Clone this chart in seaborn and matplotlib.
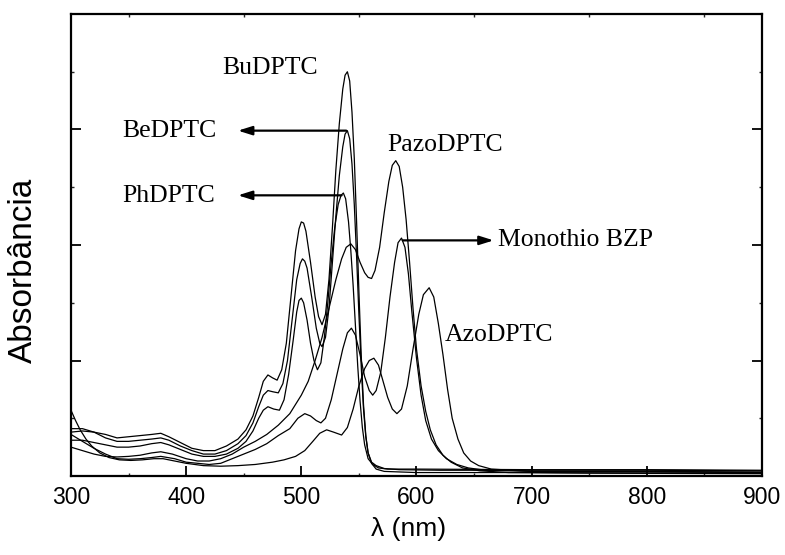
import matplotlib
matplotlib.use("Agg")
import matplotlib.pyplot as plt
from matplotlib.ticker import MultipleLocator
import numpy as np
import pandas as pd
import seaborn as sns

# UV-Vis absorption spectra (wavelength in nm, absorbance in arbitrary units)
bu_nm = [300, 310, 320, 330, 340, 350, 360, 370, 378, 385, 395, 405, 415, 425, 435, 445, 452, 458,
         463, 467, 471, 475, 479, 483, 487, 491, 495, 498, 500, 502, 504, 508, 512, 515, 518, 521,
         524, 527, 530, 533, 536, 538, 540, 542, 544, 546, 548, 550, 552, 554, 556, 558, 561, 565,
         572, 585, 620, 700, 800, 900]
bu_abs = [0.38, 0.39, 0.38, 0.36, 0.33, 0.34, 0.35, 0.36, 0.37, 0.34, 0.29, 0.24, 0.22, 0.22, 0.26,
          0.32, 0.40, 0.52, 0.68, 0.82, 0.875, 0.85, 0.83, 0.92, 1.15, 1.55, 1.95, 2.14, 2.20, 2.19,
          2.12, 1.85, 1.55, 1.38, 1.31, 1.40, 1.70, 2.15, 2.65, 3.05, 3.35, 3.47, 3.50, 3.42, 3.15,
          2.75, 2.20, 1.60, 1.05, 0.62, 0.35, 0.20, 0.12, 0.09, 0.065, 0.055, 0.05, 0.05, 0.05, 0.045]

be_nm = [300, 310, 320, 330, 340, 350, 360, 370, 378, 385, 395, 405, 415, 425, 435, 445, 452, 458,
         463, 467, 471, 475, 480, 484, 488, 492, 496, 499, 501, 503, 505, 509, 513, 516, 518, 521,
         524, 527, 530, 533, 536, 538, 540, 542, 544, 546, 548, 550, 552, 554, 556, 558, 561, 565,
         572, 600, 700, 800, 900]
be_abs = [0.41, 0.41, 0.38, 0.33, 0.30, 0.30, 0.31, 0.32, 0.33, 0.31, 0.26, 0.22, 0.19, 0.19, 0.22,
          0.28, 0.35, 0.46, 0.60, 0.70, 0.74, 0.73, 0.72, 0.80, 1.00, 1.35, 1.70, 1.84, 1.88, 1.86,
          1.80, 1.55, 1.28, 1.15, 1.12, 1.20, 1.45, 1.85, 2.25, 2.60, 2.85, 2.96, 2.99, 2.92, 2.70,
          2.35, 1.90, 1.40, 0.95, 0.58, 0.34, 0.20, 0.11, 0.06, 0.04, 0.03, 0.03, 0.025, 0.025]

ph_nm = [300, 310, 320, 330, 340, 350, 360, 370, 378, 385, 395, 405, 415, 425, 435, 445, 452, 458,
         463, 467, 471, 476, 481, 485, 489, 493, 496, 498, 500, 502, 505, 508, 511, 514, 517, 520,
         523, 526, 529, 532, 534.5, 536.5, 538.5, 541, 543, 545, 547, 549, 551, 553, 555, 558, 562,
         567, 575, 600, 700, 800, 900]
ph_abs = [0.31, 0.31, 0.29, 0.27, 0.25, 0.25, 0.26, 0.28, 0.29, 0.27, 0.23, 0.19, 0.17, 0.17, 0.19,
          0.24, 0.30, 0.39, 0.50, 0.57, 0.60, 0.58, 0.57, 0.66, 0.88, 1.18, 1.42, 1.52, 1.54, 1.50,
          1.35, 1.15, 1.00, 0.92, 0.98, 1.20, 1.50, 1.85, 2.15, 2.35, 2.43, 2.45, 2.40, 2.20, 1.95,
          1.65, 1.30, 0.95, 0.65, 0.42, 0.27, 0.15, 0.10, 0.07, 0.06, 0.06, 0.055, 0.055, 0.05]

pazo_nm = [300, 310, 320, 330, 340, 350, 360, 370, 378, 388, 400, 410, 420, 430, 440, 450, 460, 470,
           480, 490, 500, 506, 512, 518, 524, 530, 535, 539, 543, 547, 551, 555, 558, 561, 564, 568,
           572, 576, 579, 582, 585, 588, 591, 594, 597, 600, 604, 608, 612, 617, 623, 630, 640, 655,
           680, 750, 900]
pazo_abs = [0.25, 0.22, 0.19, 0.17, 0.165, 0.17, 0.18, 0.20, 0.21, 0.19, 0.15, 0.13, 0.13, 0.15,
            0.19, 0.25, 0.30, 0.36, 0.44, 0.54, 0.70, 0.82, 1.00, 1.20, 1.45, 1.70, 1.88, 1.98, 2.01,
            1.96, 1.85, 1.76, 1.72, 1.71, 1.78, 1.98, 2.28, 2.55, 2.69, 2.73, 2.68, 2.50, 2.22, 1.85,
            1.45, 1.10, 0.78, 0.56, 0.40, 0.27, 0.18, 0.12, 0.07, 0.045, 0.03, 0.025, 0.02]

mono_nm = [300, 310, 320, 330, 340, 350, 360, 370, 378, 390, 400, 410, 420, 430, 440, 450, 460, 470,
           480, 490, 497, 503, 508, 513, 517, 521, 526, 531, 536, 540, 543.5, 547, 551, 555, 559, 562,
           565, 569, 573, 577, 581, 584, 587, 590, 593, 596, 600, 604, 608, 613, 619, 626, 635, 645,
           660, 700, 800, 900]
mono_abs = [0.36, 0.30, 0.24, 0.19, 0.15, 0.145, 0.15, 0.16, 0.17, 0.15, 0.12, 0.11, 0.10, 0.11,
            0.15, 0.19, 0.23, 0.28, 0.35, 0.41, 0.50, 0.54, 0.52, 0.48, 0.46, 0.50, 0.66, 0.88, 1.10,
            1.24, 1.28, 1.22, 1.05, 0.86, 0.74, 0.70, 0.74, 0.90, 1.20, 1.55, 1.85, 2.02, 2.06, 1.98,
            1.75, 1.42, 1.02, 0.70, 0.48, 0.32, 0.22, 0.15, 0.10, 0.07, 0.05, 0.04, 0.04, 0.035]

azo_nm = [300, 304, 308, 313, 318, 325, 333, 342, 352, 362, 372, 380, 390, 400, 415, 430, 445, 460,
          475, 485, 495, 503, 510, 516, 522, 528, 535, 540, 545, 550, 555, 559, 563, 567, 571, 575,
          579, 583, 587, 592, 597, 602, 606, 611, 615, 619, 623, 627, 631, 636, 641, 647, 654, 665,
          700, 800, 900]
azo_abs = [0.57, 0.48, 0.40, 0.32, 0.26, 0.20, 0.16, 0.14, 0.135, 0.14, 0.15, 0.15, 0.13, 0.11, 0.09,
           0.085, 0.09, 0.10, 0.12, 0.14, 0.17, 0.22, 0.30, 0.37, 0.40, 0.38, 0.355, 0.42, 0.58, 0.78,
           0.93, 1.00, 1.02, 0.96, 0.82, 0.68, 0.58, 0.54, 0.58, 0.78, 1.10, 1.40, 1.57, 1.63, 1.55,
           1.32, 1.05, 0.75, 0.50, 0.32, 0.20, 0.13, 0.09, 0.06, 0.04, 0.035, 0.03]

compounds = ["BuDPTC", "BeDPTC", "PhDPTC", "PazoDPTC", "Monothio BZP", "AzoDPTC"]
wavelengths = [bu_nm, be_nm, ph_nm, pazo_nm, mono_nm, azo_nm]
absorbances = [bu_abs, be_abs, ph_abs, pazo_abs, mono_abs, azo_abs]

frames = [pd.DataFrame({"nm": w, "A": a, "compound": c})
          for c, w, a in zip(compounds, wavelengths, absorbances)]
spectra = pd.concat(frames, ignore_index=True)

sns.set_theme(style="white")
plt.rcParams["font.family"] = ["Liberation Sans", "DejaVu Sans"]

fig = plt.figure(figsize=(7.85, 5.55), dpi=100)
ax = fig.add_axes([0.0904, 0.1423, 0.8803, 0.8325])

sns.lineplot(data=spectra, x="nm", y="A", hue="compound", units="compound",
             estimator=None, sort=False, palette=["black"] * len(compounds),
             linewidth=0.9, legend=False, ax=ax)

ax.set_xlim(300, 900)
ax.set_ylim(0, 4)
ax.xaxis.set_major_locator(MultipleLocator(100))
ax.xaxis.set_minor_locator(MultipleLocator(50))
ax.yaxis.set_major_locator(MultipleLocator(1))
ax.yaxis.set_minor_locator(MultipleLocator(0.5))
ax.set_yticklabels([])
ax.tick_params(axis="both", which="major", direction="in", length=7, width=1.3,
               labelsize=16.5, colors="black", pad=7)
ax.tick_params(axis="x", which="major", top=False, bottom=True)
ax.tick_params(axis="y", which="major", left=True, right=True, labelleft=False)
ax.tick_params(axis="both", which="minor", direction="in", length=2, width=1.0,
               bottom=True, top=True, left=True, right=True)
for s in ax.spines.values():
    s.set_linewidth(1.6)
    s.set_color("black")

ax.set_xlabel("λ (nm)", fontsize=19, color="black")
ax.set_ylabel("Absorbância", fontsize=24, color="black")
ax.xaxis.set_label_coords(0.489, -0.088)
ax.yaxis.set_label_coords(-0.047, 0.446)

serif = dict(family=["Liberation Serif", "DejaVu Serif"], fontsize=18.5, color="black")
ax.text(472.8, 3.53, "BuDPTC", ha="center", va="center", **serif)
ax.text(344.3, 2.985, "BeDPTC", ha="left", va="center", **serif)
ax.text(344.3, 2.42, "PhDPTC", ha="left", va="center", **serif)
ax.text(575.0, 2.87, "PazoDPTC", ha="left", va="center", **serif)
ax.text(670.5, 2.04, "Monothio BZP", ha="left", va="center", **serif)
ax.text(624.7, 1.22, "AzoDPTC", ha="left", va="center", **serif)

arrow = dict(arrowstyle="-|>,head_length=0.7,head_width=0.22", color="black",
             lw=1.6, shrinkA=0, shrinkB=0)
ax.annotate("", xy=(445, 2.99), xytext=(539, 2.99), arrowprops=arrow)
ax.annotate("", xy=(445, 2.43), xytext=(535, 2.43), arrowprops=arrow)
ax.annotate("", xy=(667, 2.04), xytext=(588, 2.04), arrowprops=arrow)

fig.savefig("out.png", dpi=100)
